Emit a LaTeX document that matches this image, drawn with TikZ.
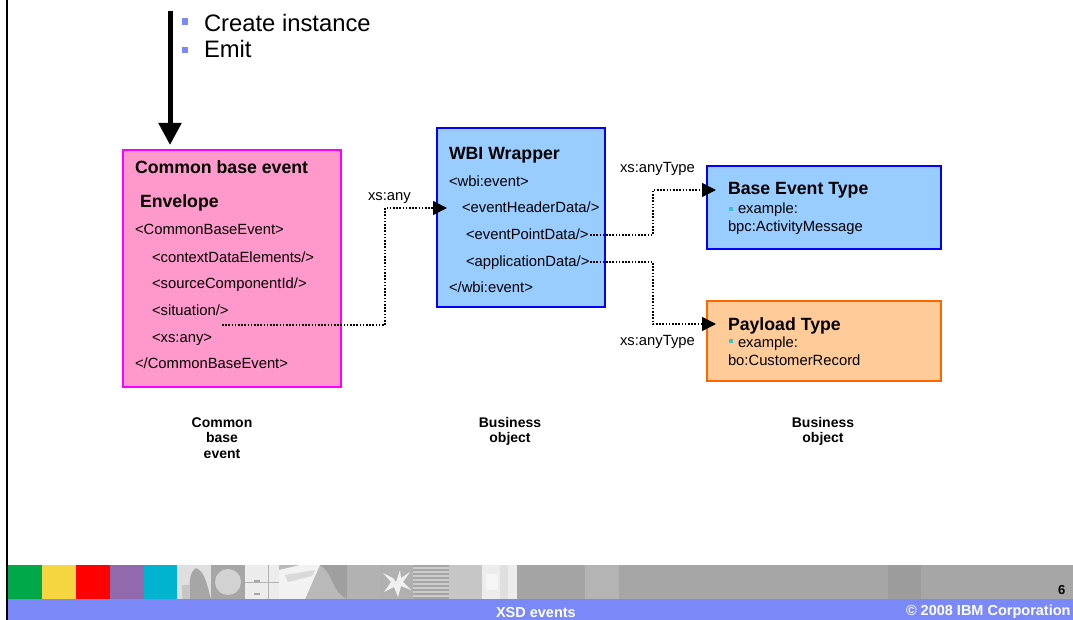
\documentclass[tikz,border=0pt]{standalone}
\usepackage{fontspec}
\setmainfont{Liberation Sans}
\usetikzlibrary{arrows.meta}
\definecolor{pinkfill}{HTML}{FF99CC}
\definecolor{magentaline}{HTML}{FF00FF}
\definecolor{bluefill}{HTML}{99CCFF}
\definecolor{blueline}{HTML}{0000FF}
\definecolor{orangefill}{HTML}{FFCC99}
\definecolor{orangeline}{HTML}{FF6600}
\definecolor{barblue}{HTML}{7A88F8}
\definecolor{tealdot}{HTML}{3CC4C4}
\definecolor{tgreen}{HTML}{00A84A}
\definecolor{tyellow}{HTML}{F5D640}
\definecolor{tred}{HTML}{FF0000}
\definecolor{tpurple}{HTML}{9369AE}
\definecolor{tcyan}{HTML}{00B4CF}
\definecolor{gA}{HTML}{A4A4A4}
\definecolor{gB}{HTML}{B4B4B4}
\definecolor{gC}{HTML}{A6A6A6}
\definecolor{gD}{HTML}{9C9C9C}
\begin{document}
\begin{tikzpicture}[x=1pt,y=-1pt,
  every node/.style={inner sep=0pt, outer sep=0pt},
  txt/.style={anchor=base west, font=\fontsize{14.8}{17}\selectfont},
  ttl/.style={anchor=base west, font=\fontsize{17.7}{21}\selectfont\bfseries},
  captext/.style={anchor=base, font=\fontsize{14}{16}\selectfont\bfseries},
  bigtxt/.style={anchor=base west, font=\fontsize{23.8}{28}\selectfont},
  boxshape/.style={draw, line width=2pt, anchor=north west},
  dots/.style={line width=1.6pt, dash pattern=on 1.6pt off 1.6pt},
  tip/.style={-{Triangle[length=14pt,width=14pt]}}]
\useasboundingbox (0,0) rectangle (1073,620);
\fill[white] (0,0) rectangle (1073,620);

% left border
\draw[line width=1.5pt] (7,0) -- (7,620);

% footer strip
\fill[tgreen]  (8,565) rectangle (42,599);
\fill[tyellow] (42,565) rectangle (76,599);
\fill[tred]    (76,565) rectangle (110,599);
\fill[tpurple] (110,565) rectangle (144,599);
\fill[tcyan]   (144,565) rectangle (177,599);
% photo tile 1
\fill[gray!25] (177,565) rectangle (211,599);
\fill[gray!70] (196,568) .. controls (206,572) and (208,590) .. (211,599) -- (188,599) .. controls (192,590) and (186,575) .. (196,568);
\fill[gray!45] (182,585) rectangle (190,599);
% circle tile
\fill[gray!70] (211,565) rectangle (245,599);
\fill[gray!35] (228,582) circle (13);
% drawers tile
\fill[gray!15] (245,565) rectangle (279,599);
\draw[gray!60, line width=0.8pt] (268,565) -- (268,599);
\draw[gray!60, line width=0.6pt] (245,582) -- (279,582);
\fill[gray!70] (254,580) rectangle (260,582);
\fill[gray!70] (254,593) rectangle (260,595);
% photo rays tile
\fill[gray!55] (279,565) rectangle (347,599);
\fill[gray!10] (279,570) -- (300,565) -- (320,565) -- (305,599) -- (279,599) -- cycle;
\fill[gray!30] (285,575) -- (315,570) -- (312,576) -- (288,582) -- cycle;
\fill[gray!75] (320,565) .. controls (335,575) and (330,590) .. (347,599) -- (347,565) -- cycle;
% grey tile
\fill[gray!60] (347,565) rectangle (380,599);
% fractal tile
\fill[gray!62] (380,565) rectangle (413,599);
\fill[gray!12] (396,582) -- (400,570) -- (401,578) -- (410,572) -- (403,582) -- (411,590) -- (401,586) -- (398,597) -- (394,587) -- (384,592) -- (391,582) -- (383,573) -- (393,578) -- cycle;
% stripes tile
\fill[gray!70] (413,565) rectangle (449,599);
\foreach \yy in {567,571,...,597} {\fill[gray!40] (413,\yy) rectangle (449,\yy+1.6);}
% light grey tiles
\fill[gray!45] (449,565) rectangle (482,599);
\fill[gray!15] (482,565) rectangle (517,599);
\fill[gray!25] (500,565) rectangle (508,599);
\fill[gray!8] (486,574) rectangle (498,590);
\fill[gA] (517,565) rectangle (585,599);
\fill[gB] (585,565) rectangle (619,599);
\fill[gC] (619,565) rectangle (888,599);
\fill[gD] (888,565) rectangle (921,599);
\fill[gC] (921,565) rectangle (1073,599);
\fill[barblue] (8,599) rectangle (1073,620);
\node[anchor=base west, font=\fontsize{13}{15}\selectfont\bfseries] (pagenum) at (1058,594) {6};
\node[anchor=base west, text=white, font=\fontsize{14.5}{17}\selectfont\bfseries] (foottitle) at (496,617) {XSD events};
\node[anchor=base west, text=white, font=\fontsize{14.5}{17}\selectfont\bfseries] (copyright) at (906,615) {© 2008 IBM Corporation};

% top bullets
\fill[barblue] (182,18) rectangle (188,25);
\fill[barblue] (182,47) rectangle (188,53);
\node[bigtxt] (b1) at (204,32) {Create instance};
\node[bigtxt] (b2) at (204,58) {Emit};

% boxes
\node[boxshape, draw=magentaline, fill=pinkfill, minimum width=218pt, minimum height=237pt] (cbe) at (123,150) {};
\node[boxshape, draw=blueline, fill=bluefill, minimum width=168pt, minimum height=179pt] (wbi) at (437,128) {};
\node[boxshape, draw=blueline, fill=bluefill, minimum width=234pt, minimum height=83pt] (bet) at (707,166) {};
\node[boxshape, draw=orangeline, fill=orangefill, minimum width=234pt, minimum height=80pt] (pay) at (707,301) {};

% big arrow
\coordinate (arrtop) at (170,11);
\draw[line width=5pt, -{Triangle[length=22pt,width=22pt]}] (arrtop) -- ([yshift=5pt]cbe.north -| arrtop);

% pink box texts
\node[ttl] (cbet) at (135,174) {Common base event};
\node[ttl] (env) at (140,208) {Envelope};
\node[txt] (p1) at (135,235) {<CommonBaseEvent>};
\node[txt] (p2) at (152,262) {<contextDataElements/>};
\node[txt] (p3) at (152,288) {<sourceComponentId/>};
\node[txt] (p4) at (152,315) {<situation/>};
\node[txt] (p5) at (152,342) {<xs:any>};
\node[txt] (p6) at (135,368) {</CommonBaseEvent>};

% WBI texts
\node[ttl] (wbit) at (449,160) {WBI Wrapper};
\node[txt] (w1) at (449,187) {<wbi:event>};
\node[txt] (w2) at (462,213) {<eventHeaderData/>};
\node[txt] (w3) at (466,240) {<eventPointData/>};
\node[txt] (w4) at (466,267) {<applicationData/>};
\node[txt] (w5) at (449,293) {</wbi:event>};

% base event type texts
\node[ttl] (bett) at (728,195) {Base Event Type};
\fill[tealdot] (729,207) rectangle (733,211);
\node[txt] (be1) at (738,214) {example:};
\node[txt] (be2) at (728,232) {bpc:ActivityMessage};

% payload texts
\node[ttl] (payt) at (728,330) {Payload Type};
\fill[tealdot] (729,339) rectangle (733,343);
\node[txt] (pa1) at (738,347) {example:};
\node[txt] (pa2) at (728,365) {bo:CustomerRecord};

% connector labels
\node[txt] (l1) at (368,201) {xs:any};
\node[txt] (l2) at (620,173) {xs:anyType};
\node[txt] (l3) at (620,345) {xs:anyType};

% dotted connectors
\coordinate (s1) at (222,325);
\coordinate (k1) at (385,208);
\draw[dots, tip] (s1) -| (k1) -- ([xshift=10pt]wbi.west |- k1);
\coordinate (s2) at (590,235);
\coordinate (k2) at (653,190);
\draw[dots, tip] (s2) -| (k2) -- ([xshift=9pt]bet.west |- k2);
\coordinate (s3) at (590,262);
\coordinate (k3) at (653,324);
\draw[dots, tip] (s3) -| (k3) -- ([xshift=9pt]pay.west |- k3);

% captions
\node[captext] (c1a) at (222,427) {Common};
\node[captext] (c1b) at (222,442) {base};
\node[captext] (c1c) at (222,458) {event};
\node[captext] (c2a) at (510,427) {Business};
\node[captext] (c2b) at (510,442) {object};
\node[captext] (c3a) at (823,427) {Business};
\node[captext] (c3b) at (823,442) {object};
\end{tikzpicture}
\end{document}
